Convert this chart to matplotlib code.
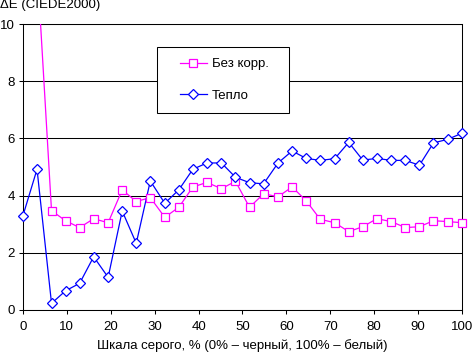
import numpy as np
import matplotlib
matplotlib.use("Agg")
import matplotlib.pyplot as plt
from matplotlib.lines import Line2D
from matplotlib.patches import Rectangle

plt.rcParams["font.family"] = ["Liberation Sans", "DejaVu Sans"]
plt.rcParams["font.size"] = 9.5

# gray scale levels, % (32 steps)
gray_pct = [0, 3.2, 6.5, 9.7, 12.9, 16.1, 19.4, 22.6, 25.8, 29.0, 32.3, 35.5,
            38.7, 41.9, 45.2, 48.4, 51.6, 54.8, 58.1, 61.3, 64.5, 67.7, 71.0,
            74.2, 77.4, 80.6, 83.9, 87.1, 90.3, 93.5, 96.8, 100]

# "Без корр." - first point is far off the scale
de_nocorr = [np.nan, 12.1, 3.47, 3.12, 2.88, 3.19, 3.05, 4.20, 3.79, 3.93, 3.24, 3.59,
             4.30, 4.46, 4.24, 4.50, 3.59, 4.06, 3.96, 4.30, 3.82, 3.17, 3.05,
             2.74, 2.91, 3.19, 3.09, 2.88, 2.91, 3.12, 3.09, 3.05]

# "Тепло"
de_warm = [3.30, 4.92, 0.23, 0.67, 0.93, 1.86, 1.14, 3.46, 2.33, 4.51, 3.73, 4.20,
           4.92, 5.14, 5.14, 4.64, 4.45, 4.41, 5.14, 5.56, 5.30, 5.23, 5.29,
           5.86, 5.24, 5.30, 5.23, 5.23, 5.06, 5.84, 5.97, 6.18]

series = [
    ("Без корр.", de_nocorr, "#FF00FF", "s", 5.5),
    ("Тепло", de_warm, "#0000FF", "D", 5.0),
]

fig = plt.figure(figsize=(4.72, 3.53), dpi=100)
ax = fig.add_axes([0.0487, 0.122, 0.9301, 0.810])

x = np.array(gray_pct)
handles = []
for name, vals, col, mk, ms in series:
    y = np.array(vals, dtype=float)
    # line is clipped by the axes, markers may stick out at the edges
    ax.plot(x, y, color=col, lw=0.9, zorder=3)
    inside = y <= 10
    ax.plot(x[inside], y[inside], ls="none", marker=mk, ms=ms, mfc="white",
            mec=col, mew=0.9, clip_on=False, zorder=4)
    handles.append(Line2D([], [], color=col, lw=0.9, marker=mk, ms=ms,
                          mfc="white", mec=col, mew=0.9, label=name))

ax.set_xlim(0, 100)
ax.set_ylim(0, 10)
ax.set_xticks(np.arange(0, 101, 10))
ax.set_yticks(np.arange(0, 11, 2))
ax.yaxis.grid(True, color="black", lw=0.75)
ax.set_axisbelow(True)
for sp in ax.spines.values():
    sp.set_linewidth(0.75)
ax.tick_params(direction="out", length=3, width=0.75)
ax.tick_params(axis="x", pad=5)
ax.tick_params(axis="y", pad=3)

# legend with its own frame
ax.add_patch(Rectangle((0.305, 0.689), 0.301, 0.231, transform=ax.transAxes,
                       facecolor="white", edgecolor="black", lw=0.75, zorder=5))
leg = ax.legend(handles=handles, loc="center", bbox_to_anchor=(0.459, 0.8045),
                frameon=False, borderpad=0, labelspacing=1.45, handlelength=2.0,
                handletextpad=0.4)
leg.set_zorder(6)

fig.text(0.0, 0.985, "ΔE (CIEDE2000)", ha="left", va="center")
fig.text(0.513, 0.02, "Шкала серого, % (0% – черный, 100% – белый)",
         ha="center", va="center")

fig.savefig("out.png", dpi=100)
